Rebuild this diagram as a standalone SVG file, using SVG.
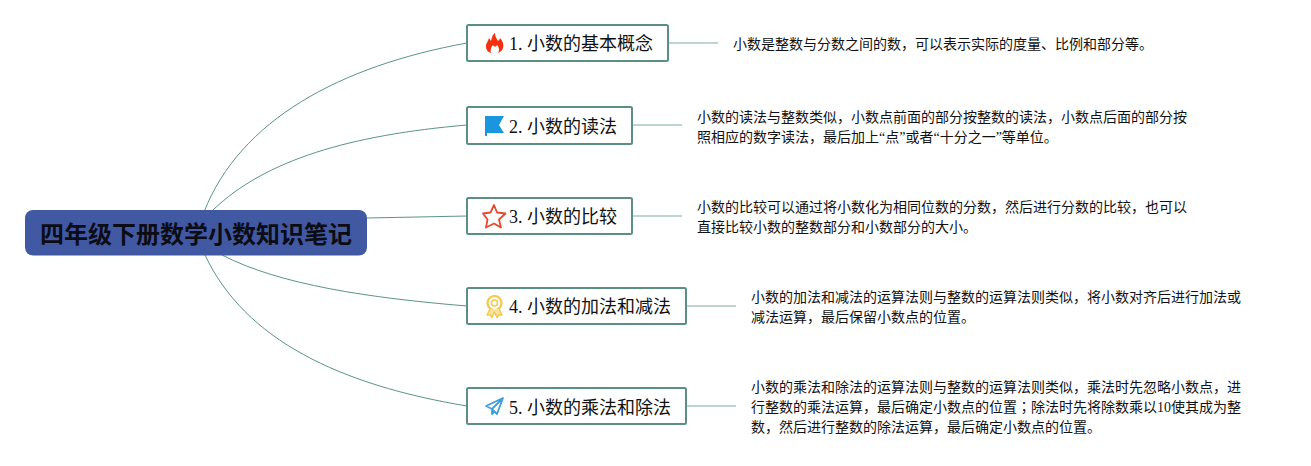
<svg xmlns="http://www.w3.org/2000/svg" width="1311" height="466" viewBox="0 0 1311 466">
<style>
text{font-family:"Liberation Serif","Noto Sans CJK SC",serif;fill:#111}
.b{fill:#fff;stroke:#5b8f83;stroke-width:2}
.t{font-size:18px}
.d{font-size:14px}
.r{font-size:24px;font-weight:bold;fill:#0c0c14}
.c{fill:none;stroke:#5b9488;stroke-width:1}
.l{fill:none;stroke:#a6c9c0;stroke-width:1.5}
.tc{font-family:"Noto Sans CJK TC",sans-serif}
</style>
<rect width="1311" height="466" fill="#fff"/>
<g id="connectors">
<path class="c" d="M204 212C240 120 340 66 467 43"/>
<path class="c" d="M213 210C265 160 350 135 467 125"/>
<path class="c" d="M367 218L467 216"/>
<path class="c" d="M222 255C280 285 370 298 467 306"/>
<path class="c" d="M205 255C245 340 340 385 467 406"/>
<path class="l" d="M668 43H718M632 125H682M632 216H682M686 306H736M686 406H736"/>
</g>
<g id="root">
<rect x="25" y="210" width="342" height="45.500" rx="8" fill="#4159a3"/>
<text class="r" x="40" y="243">四年级下册数学小数知识笔记</text>
</g>
<g id="node1">
<rect class="b" x="467" y="25" width="201" height="36" rx="1.500"/>
<path d="M495 33C495 37 497 39 498 41C499 40 500 39 500 38C503 41 504 45 503 48C502 51 500 52 498 53C500 50 499 47 497 45C496 47 494 47 493 45C491 47 490 50 491 53C488 52 486 50 486 46C486 43 488 42 489 38C490 39 491 41 491 41C492 38 492 35 495 33Z" fill="#f4300e"/>
<text class="t" x="509" y="50">1. 小数的基本概念</text>
</g>
<g id="node2">
<rect class="b" x="467" y="107" width="165" height="37" rx="1.500"/>
<path d="M485 116H504L499 125L504 133H487V136H485Z" fill="#1a96de"/>
<text class="t" x="509" y="133">2. 小数的读法</text>
</g>
<g id="node3">
<rect class="b" x="467" y="198" width="165" height="36" rx="1.500"/>
<path d="M494 205L497 212.500L505.500 213.500L499 219.500L501 227.500L494 223.500L486 227.500L487.500 219.500L483 213.500L490.500 212.500Z" fill="none" stroke="#e5492f" stroke-width="1.800" stroke-linejoin="round"/>
<text class="t" x="509" y="223">3. 小数的比较</text>
</g>
<g id="node4">
<rect class="b" x="467" y="288" width="219" height="36" rx="1.500"/>
<circle cx="494.500" cy="303" r="7" fill="none" stroke="#f5c84a" stroke-width="2.200"/>
<circle cx="494.500" cy="303" r="3" fill="none" stroke="#f5c84a" stroke-width="1.500"/>
<path d="M490 309L487 315L490.500 315L492 317.500L494.500 312L497 317.500L498.500 315L502 315L499 309" fill="#fbe3a0" stroke="#f5c84a" stroke-width="1.500" stroke-linejoin="round"/>
<text class="t" x="509" y="313">4. 小数的加法和减法</text>
</g>
<g id="node5">
<rect class="b" x="467" y="388" width="219" height="36" rx="1.500"/>
<path d="M503 398L486 406L492 409L497 414ZM503 398L492 409L492 414L495 411" fill="none" stroke="#3f9fdc" stroke-width="1.800" stroke-linejoin="round"/>
<text class="t" x="509" y="414">5. 小数的乘法和除法</text>
</g>
<g id="desc1"><text class="d" x="733" y="49">小数是整数与分数之间的数，可以表示实际的度量、比例和部分等。</text></g>
<g id="desc2"><text class="d" x="697" y="122">小数的读法与整数类似，小数点前面的部分按整数的读法，小数点后面的部分按</text><text class="d" x="697" y="142">照相应的数字读法，最后加上“点”或者“十分之一”等单位。</text></g>
<g id="desc3"><text class="d" x="697" y="212">小数的比较可以通过将小数化为相同位数的分数，然后进行分数的比较，也可以</text><text class="d" x="697" y="232">直接比较小数的整数部分和小数部分的大小。</text></g>
<g id="desc4"><text class="d" x="751" y="302">小数的加法和减法的运算法则与整数的运算法则类似，将小数对齐后进行加法或</text><text class="d" x="751" y="322">减法运算，最后保留小数点的位置。</text></g>
<g id="desc5"><text class="d" x="751" y="392">小数的乘法和除法的运算法则与整数的运算法则类似，乘法时先忽略小数点，进</text><text class="d" x="751" y="412">行整数的乘法运算，最后确定小数点的位置<tspan class="tc">；</tspan>除法时先将除数乘以10使其成为整</text><text class="d" x="751" y="432">数，然后进行整数的除法运算，最后确定小数点的位置。</text></g>
</svg>
